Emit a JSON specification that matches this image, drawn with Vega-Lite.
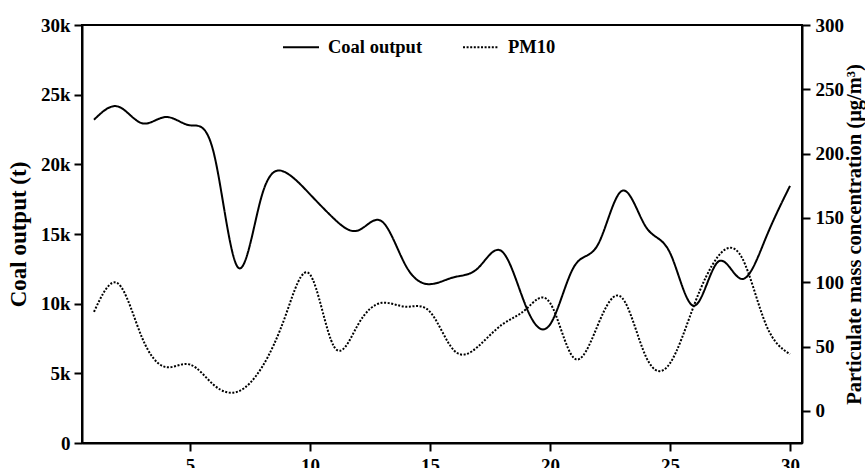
{
  "$schema": "https://vega.github.io/schema/vega-lite/v6.json",
  "width": 720,
  "height": 418,
  "autosize": {"type": "none"},
  "padding": {"left": 82, "top": 25, "right": 63, "bottom": 25},
  "background": "white",
  "config": {
    "font": "Liberation Serif",
    "view": {"stroke": "black", "strokeWidth": 2},
    "axis": {
      "grid": false,
      "domainColor": "black",
      "domainWidth": 2,
      "tickColor": "black",
      "tickWidth": 2,
      "tickSize": 8,
      "labelFont": "Liberation Serif",
      "labelFontWeight": "bold",
      "labelFontSize": 19,
      "labelColor": "black",
      "titleFont": "Liberation Serif",
      "titleFontWeight": "bold",
      "titleFontSize": 23,
      "titleColor": "black"
    }
  },
  "data": {
    "values": [
      {"day": 1, "coal": 23200, "pm10": 77},
      {"day": 2, "coal": 24150, "pm10": 99},
      {"day": 3, "coal": 22950, "pm10": 57},
      {"day": 4, "coal": 23400, "pm10": 34},
      {"day": 5, "coal": 22800, "pm10": 36},
      {"day": 6, "coal": 20750, "pm10": 20},
      {"day": 7, "coal": 12600, "pm10": 15},
      {"day": 8, "coal": 17800, "pm10": 34},
      {"day": 9, "coal": 19400, "pm10": 75},
      {"day": 10, "coal": 17850, "pm10": 106},
      {"day": 11, "coal": 16100, "pm10": 50},
      {"day": 12, "coal": 15250, "pm10": 67},
      {"day": 13, "coal": 15900, "pm10": 84},
      {"day": 14, "coal": 12700, "pm10": 81},
      {"day": 15, "coal": 11400, "pm10": 77},
      {"day": 16, "coal": 11900, "pm10": 47},
      {"day": 17, "coal": 12550, "pm10": 50},
      {"day": 18, "coal": 13750, "pm10": 67},
      {"day": 19, "coal": 9800, "pm10": 79},
      {"day": 20, "coal": 8500, "pm10": 84},
      {"day": 21, "coal": 12650, "pm10": 41},
      {"day": 22, "coal": 14250, "pm10": 67},
      {"day": 23, "coal": 18100, "pm10": 88},
      {"day": 24, "coal": 15500, "pm10": 42},
      {"day": 25, "coal": 13650, "pm10": 37},
      {"day": 26, "coal": 9850, "pm10": 82},
      {"day": 27, "coal": 13000, "pm10": 120},
      {"day": 28, "coal": 11770, "pm10": 119},
      {"day": 29, "coal": 14750, "pm10": 67},
      {"day": 30, "coal": 18450, "pm10": 44}
    ]
  },
  "encoding": {
    "x": {
      "field": "day",
      "type": "quantitative",
      "scale": {"domain": [0.5, 30.5], "nice": false, "zero": false},
      "axis": {"values": [5, 10, 15, 20, 25, 30], "title": null, "labelPadding": 5}
    }
  },
  "layer": [
    {
      "mark": {"type": "line", "interpolate": "natural", "strokeWidth": 2, "color": "black"},
      "encoding": {
        "y": {
          "field": "coal",
          "type": "quantitative",
          "scale": {"domain": [0, 30000], "nice": false},
          "axis": {"values": [0, 5000, 10000, 15000, 20000, 25000, 30000], "labelExpr": "datum.value == 0 ? '0' : format(datum.value / 1000, 'd') + 'k'", "title": "Coal output (t)", "labelPadding": 4, "titlePadding": 10}
        },
        "strokeDash": {
          "datum": "Coal output",
          "type": "nominal",
          "scale": {"domain": ["Coal output", "PM10"], "range": [[1, 0], [2, 1.6]]},
          "legend": {
            "title": null,
            "orient": "none",
            "legendX": 200,
            "legendY": 3,
            "direction": "horizontal",
            "columns": 2,
            "columnPadding": 36,
            "symbolType": "stroke",
            "symbolSize": 1296,
            "symbolStrokeWidth": 2,
            "symbolStrokeColor": "black",
            "labelFont": "Liberation Serif",
            "labelFontWeight": "bold",
            "labelFontSize": 18.5,
            "labelColor": "black",
            "labelOffset": 8
          }
        }
      }
    },
    {
      "mark": {"type": "line", "interpolate": "natural", "strokeWidth": 2, "color": "black"},
      "encoding": {
        "y": {
          "field": "pm10",
          "type": "quantitative",
          "scale": {"domain": [-25, 300], "nice": false, "zero": false},
          "axis": {"orient": "right", "values": [0, 50, 100, 150, 200, 250, 300], "title": "Particulate mass concentration (μg/m³)", "titleFontSize": 20.5, "titleAngle": 270, "titleBaseline": "top", "labelPadding": 5, "titlePadding": 1}
        },
        "strokeDash": {"datum": "PM10", "type": "nominal"}
      }
    }
  ],
  "resolve": {"scale": {"y": "independent"}}
}
